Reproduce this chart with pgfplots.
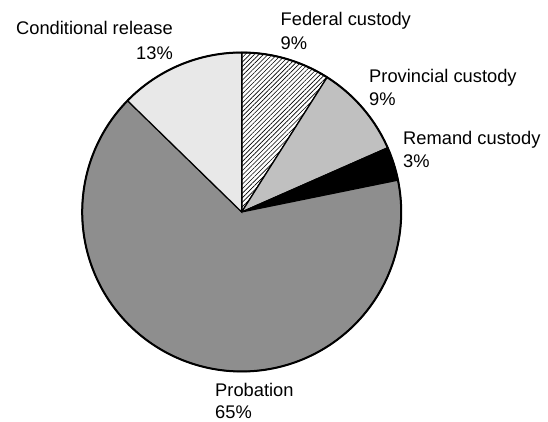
\documentclass[border=0pt]{standalone}
\usepackage{fontspec}
\setmainfont{Liberation Sans}
\usepackage{pgfplots}
\usepackage{pgfplotstable}
\pgfplotsset{compat=1.18}
\usetikzlibrary{patterns.meta}
\definecolor{provc}{RGB}{192,192,192}
\definecolor{probc}{RGB}{142,142,142}
\definecolor{condc}{RGB}{232,232,232}
\pgfplotstableread{
name value
Federal 9.0
Provincial 9.4
Remand 3.4
Probation 65.5
Conditional 12.7
}\piedata
\tikzset{lbl/.style={inner sep=0pt, font=\fontsize{18.3bp}{23bp}\selectfont}}
\begin{document}
\begin{tikzpicture}
\pgfplotstablegetelem{0}{value}\of\piedata \let\vA\pgfplotsretval
\pgfplotstablegetelem{1}{value}\of\piedata \let\vB\pgfplotsretval
\pgfplotstablegetelem{2}{value}\of\piedata \let\vC\pgfplotsretval
\pgfplotstablegetelem{3}{value}\of\piedata \let\vD\pgfplotsretval
\pgfplotstablegetelem{4}{value}\of\piedata \let\vE\pgfplotsretval
\pgfmathsetmacro\aA{90}
\pgfmathsetmacro\aB{\aA-3.6*\vA}
\pgfmathsetmacro\aC{\aB-3.6*\vB}
\pgfmathsetmacro\aD{\aC-3.6*\vC}
\pgfmathsetmacro\aE{\aD-3.6*\vD}
\pgfmathsetmacro\aF{\aE-3.6*\vE}
\def\cx{241.7}\def\cy{210}\def\rr{159.5}
\begin{axis}[
  anchor=south west, at={(0,0)},
  scale only axis, width=548bp, height=422bp,
  xmin=0, xmax=548, ymin=0, ymax=422,
  hide axis, clip=false,
]
\addplot[draw=black, line width=1.2bp, fill=white, postaction={pattern={Lines[angle=45,distance=3.2bp,line width=0.6bp]}}, domain=\aB:\aA, samples=60, variable=\t] ({\cx+\rr*cos(t)},{\cy+\rr*sin(t)}) -- (axis cs:\cx,\cy) -- cycle;
\addplot[draw=black, line width=1.2bp, fill=provc, domain=\aC:\aB, samples=60, variable=\t] ({\cx+\rr*cos(t)},{\cy+\rr*sin(t)}) -- (axis cs:\cx,\cy) -- cycle;
\addplot[draw=black, line width=1.2bp, fill=black, domain=\aD:\aC, samples=30, variable=\t] ({\cx+\rr*cos(t)},{\cy+\rr*sin(t)}) -- (axis cs:\cx,\cy) -- cycle;
\addplot[draw=black, line width=1.2bp, fill=probc, domain=\aE:\aD, samples=200, variable=\t] ({\cx+\rr*cos(t)},{\cy+\rr*sin(t)}) -- (axis cs:\cx,\cy) -- cycle;
\addplot[draw=black, line width=1.2bp, fill=condc, domain=\aF:\aE, samples=60, variable=\t] ({\cx+\rr*cos(t)},{\cy+\rr*sin(t)}) -- (axis cs:\cx,\cy) -- cycle;
\addplot[draw=black, line width=2bp, domain=0:360, samples=300, variable=\t] ({\cx+\rr*cos(t)},{\cy+\rr*sin(t)});
\node[lbl, anchor=base east] at (axis cs:173,387) {Conditional release};
\node[lbl, anchor=base east] at (axis cs:173,362) {13\%};
\node[lbl, anchor=base west] at (axis cs:280.5,396) {Federal custody};
\node[lbl, anchor=base west] at (axis cs:280.5,372) {9\%};
\node[lbl, anchor=base west] at (axis cs:369,339) {Provincial custody};
\node[lbl, anchor=base west] at (axis cs:369,316) {9\%};
\node[lbl, anchor=base west] at (axis cs:403,277) {Remand custody};
\node[lbl, anchor=base west] at (axis cs:403,254) {3\%};
\node[lbl, anchor=base west] at (axis cs:215,26) {Probation};
\node[lbl, anchor=base west] at (axis cs:215,4) {65\%};
\end{axis}
\pgfresetboundingbox
\path[use as bounding box] (0,0) rectangle (548bp,422bp);
\end{tikzpicture}
\end{document}
